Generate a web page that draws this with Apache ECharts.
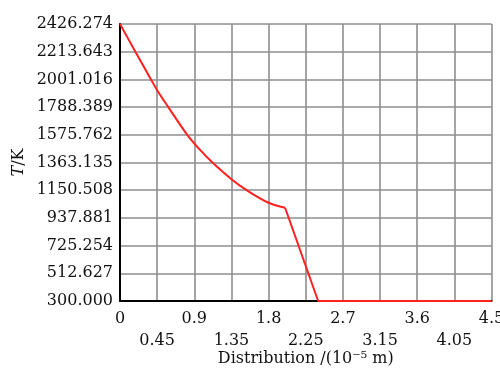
<!DOCTYPE html>
<html>
<head>
<meta charset="utf-8">
<script src="https://cdn.jsdelivr.net/npm/echarts@6/dist/echarts.min.js"></script>
<style>
html,body{margin:0;padding:0;background:#fff;}
#chart{width:500px;height:368px;}
</style>
</head>
<body>
<div id="chart"></div>
<script>
// Smooth cooling part of the curve (distance in 1e-5 m, temperature in K)
var curveX = [0, 0.186, 0.375, 0.45, 0.585, 0.815, 0.97, 1.12, 1.35, 1.534, 1.8, 2.0];
var curveT = [2426.274, 2213.6, 2001.0, 1918, 1788.4, 1575.8, 1460, 1363.1, 1235, 1150.5, 1054, 1016];
// Steep drop and flat tail
var tailX = [2.0, 2.4, 4.5];
var tailT = [1016, 300, 300];

var yTickLabels = ['300.000','512.627','725.254','937.881','1150.508','1363.135','1575.762','1788.389','2001.016','2213.643','2426.274'];
var xTickLabels = ['0','0.45','0.9','1.35','1.8','2.25','2.7','3.15','3.6','4.05','4.5'];

var yMin = 300, yMax = 2426.274;
var xMin = 0, xMax = 4.5;

function pairs(xs, ys){ return xs.map(function(x,i){ return [x, ys[i]]; }); }

var font = 'DejaVu Serif';
var chart = echarts.init(document.getElementById('chart'), null, {renderer:'canvas'});
chart.setOption({
  animation: false,
  backgroundColor: '#fff',
  grid: {left: 120, right: 8.5, top: 24, bottom: 67, containLabel: false, outerBoundsMode: 'none'},
  xAxis: {
    type: 'value', min: xMin, max: xMax, interval: (xMax - xMin) / 10,
    axisLine: {show: true, onZero: false, lineStyle: {color: '#000', width: 2}},
    axisTick: {show: false},
    splitLine: {show: true, lineStyle: {color: '#8e8e8e', width: 1.6}},
    axisLabel: {
      margin: 7, fontFamily: font, fontSize: 16, color: '#111', lineHeight: 22,
      formatter: function(v, i){ var t = xTickLabels[i]; return (i % 2 === 1) ? '\n' + t : t; }
    },
    name: 'Distribution /(10\u207B\u2075 m)',
    nameLocation: 'middle', nameGap: 50, nameMoveOverlap: false,
    nameTextStyle: {fontFamily: font, fontSize: 16, color: '#111'}
  },
  yAxis: {
    type: 'value', min: yMin, max: yMax, interval: (yMax - yMin) / 10,
    axisLine: {show: true, onZero: false, lineStyle: {color: '#000', width: 2}},
    axisTick: {show: false},
    splitLine: {show: true, lineStyle: {color: '#8e8e8e', width: 1.6}},
    axisLabel: {
      margin: 7, fontFamily: font, fontSize: 16, color: '#111',
      formatter: function(v, i){ return yTickLabels[i]; }
    },
    name: '{i|T}/K',
    nameLocation: 'middle', nameGap: 93, nameRotate: 90, nameMoveOverlap: false,
    nameTextStyle: {fontFamily: font, fontSize: 16, color: '#111',
      rich: {i: {fontFamily: font, fontSize: 16, fontStyle: 'italic', color: '#111'}}}
  },
  series: [
    {type: 'line', data: pairs(curveX, curveT), smooth: 0.35, showSymbol: false,
     lineStyle: {color: '#ff2020', width: 2}, z: 5},
    {type: 'line', data: pairs(tailX, tailT), smooth: false, showSymbol: false,
     lineStyle: {color: '#ff2020', width: 2}, z: 5}
  ]
});
</script>
</body>
</html>
